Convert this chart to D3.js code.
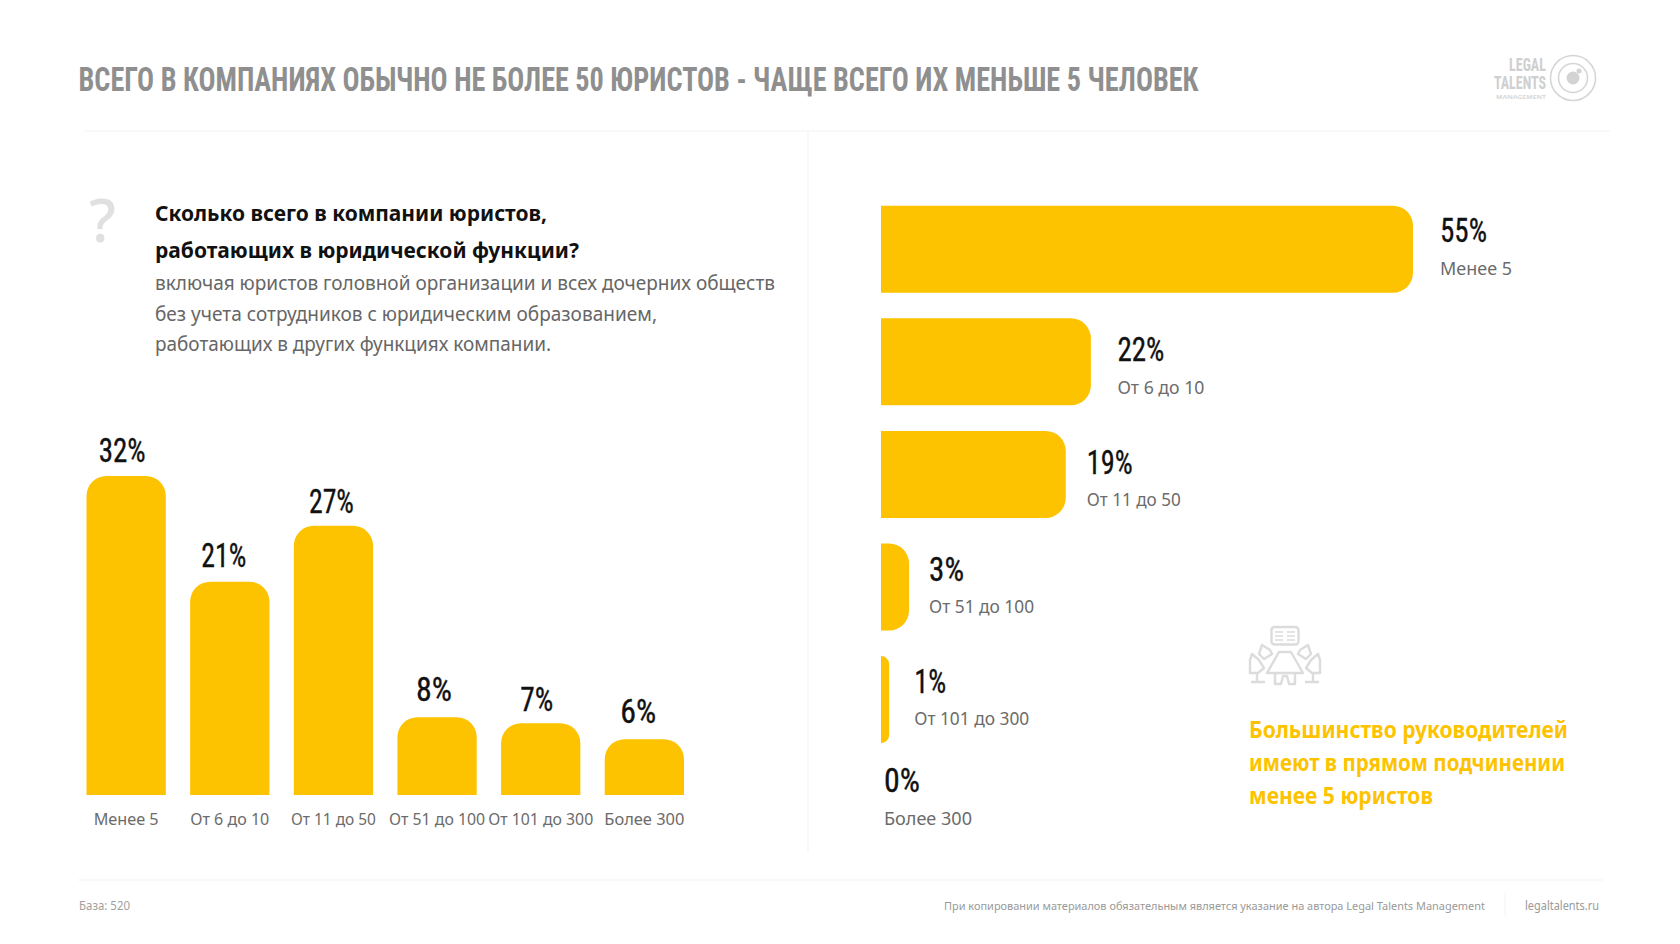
<!DOCTYPE html>
<html><head><meta charset="utf-8">
<script src="https://cdn.jsdelivr.net/npm/d3@7"></script>
<style>
html,body{margin:0;padding:0;background:#fff;overflow:hidden}
svg{display:block}
text{font-family:"Noto Sans",sans-serif}
.cond{font-family:"Liberation Sans Narrow","Roboto Condensed","DejaVu Sans Condensed",sans-serif}
.val{stroke:#111;stroke-width:.35}
</style></head><body>
<svg id="c" width="1680" height="944"></svg>
<script>
const leftCategories=["Менее 5","От 6 до 10","От 11 до 50","От 51 до 100","От 101 до 300","Более 300"];
const leftValues=[32,21.4,27,7.8,7.2,5.6];
const rightCategories=["Менее 5","От 6 до 10","От 11 до 50","От 51 до 100","От 101 до 300","Более 300"];
const rightValues=[55,21.7,19.1,2.9,0.85,0];
const titleText="ВСЕГО В КОМПАНИЯХ ОБЫЧНО НЕ БОЛЕЕ 50 ЮРИСТОВ - ЧАЩЕ ВСЕГО ИХ МЕНЬШЕ 5 ЧЕЛОВЕК";

const YEL="#fdc300",svg=d3.select("#c");
const pct=v=>Math.round(v)+"%";
function T(s,x,y,size,color,opt={}){
  const t=svg.append("text").attr("x",x).attr("y",y).attr("font-size",size).attr("fill",color).text(s);
  if(opt.bold)t.attr("font-weight",opt.bold===true?700:opt.bold);
  if(opt.cls)t.attr("class",opt.cls);
  if(opt.anchor)t.attr("text-anchor",opt.anchor);
  if(opt.w)t.attr("textLength",opt.w).attr("lengthAdjust","spacingAndGlyphs");
  return t;
}
function L(x1,y1,x2,y2,c="#f3f3f3"){svg.append("line").attr("x1",x1).attr("y1",y1).attr("x2",x2).attr("y2",y2).attr("stroke",c).attr("stroke-width",1);}

// frame
T(titleText,78.5,91,34,"#8f8f8f",{bold:true,cls:"cond",w:1120});
L(85,131,1610,131);L(808,131,808,853);L(78,880,1603,880);L(1505,893,1505,916);

// question block
T("?",89,242,60,"#e0e0e0",{bold:500});
T("Сколько всего в компании юристов,",155,221,22,"#111",{bold:true,w:392});
T("работающих в юридической функции?",155,258,22,"#111",{bold:true,w:424});
T("включая юристов головной организации и всех дочерних обществ",155,290,19,"#666",{w:620});
T("без учета сотрудников с юридическим образованием,",155,321,19,"#666",{w:502});
T("работающих в других функциях компании.",155,351,19,"#666",{w:396});

// left chart
const x=d3.scaleBand().domain(leftCategories).range([86.5,684]).paddingInner(0.235).paddingOuter(0);
const y=d3.scaleLinear().domain([0,32]).range([795,476]);
const topRound=(x0,y0,w,h,r)=>{const p=d3.path();p.moveTo(x0,y0+h);p.lineTo(x0,y0+r);p.arcTo(x0,y0,x0+r,y0,r);p.lineTo(x0+w-r,y0);p.arcTo(x0+w,y0,x0+w,y0+r,r);p.lineTo(x0+w,y0+h);p.closePath();return p.toString();};
svg.append("g").selectAll("path").data(leftValues).join("path").attr("fill",YEL)
  .attr("d",(v,i)=>topRound(x(leftCategories[i]),y(v),x.bandwidth(),y(0)-y(v),20));
const leftShift=[-4,-6,-2,-3,-4,-6],leftRise=[14,15,13,16,12,16];
svg.append("g").selectAll("text").data(leftValues).join("text").attr("class","cond val")
  .attr("x",(v,i)=>x(leftCategories[i])+x.bandwidth()/2+leftShift[i]).attr("y",(v,i)=>y(v)-leftRise[i])
  .attr("text-anchor","middle").attr("font-size",33).attr("fill","#111")
  .attr("textLength",(v,i)=>[47,45,45,36,33,36][i]).attr("lengthAdjust","spacingAndGlyphs").text(pct);
svg.append("g").selectAll("text").data(leftCategories).join("text")
  .attr("x",c=>x(c)+x.bandwidth()/2).attr("y",825)
  .attr("text-anchor","middle").attr("font-size",16).attr("fill","#6b6b6b")
  .attr("textLength",(c,i)=>[65,79,85,96,105,80][i]).attr("lengthAdjust","spacingAndGlyphs").text(c=>c);

// right chart
const bx=d3.scaleLinear().domain([0,55]).range([881,1413]);
const by=d3.scaleBand().domain(rightCategories).range([205.7,855.7]).paddingInner(0.227).paddingOuter(0);
const sideRound=(x0,y0,w,h)=>{const r=Math.min(w,20),p=d3.path();p.moveTo(x0,y0);p.lineTo(x0+w-r,y0);p.arcTo(x0+w,y0,x0+w,y0+r,r);p.lineTo(x0+w,y0+h-r);p.arcTo(x0+w,y0+h,x0+w-r,y0+h,r);p.lineTo(x0,y0+h);p.closePath();return p.toString();};
svg.append("g").selectAll("path").data(rightValues.filter(v=>v>0)).join("path").attr("fill",YEL)
  .attr("d",(v,i)=>sideRound(bx(0),by(rightCategories[i]),bx(v)-bx(0),by.bandwidth()));
const labelGap=[27,26.5,21,20,25,3];
const valueDrop=[36,43,43,38,37,23],catDrop=[69,76,75,70,69,56];
svg.append("g").selectAll("text").data(rightValues).join("text").attr("class","cond val")
  .attr("x",(v,i)=>bx(v)+labelGap[i]).attr("y",(v,i)=>by(rightCategories[i])+valueDrop[i])
  .attr("font-size",33).attr("fill","#111")
  .attr("textLength",(v,i)=>[47,47,46,35,32,36][i]).attr("lengthAdjust","spacingAndGlyphs").text(pct);
svg.append("g").selectAll("text").data(rightCategories).join("text")
  .attr("x",(c,i)=>bx(rightValues[i])+labelGap[i]).attr("y",(c,i)=>by(c)+catDrop[i])
  .attr("font-size",18).attr("fill","#6b6b6b")
  .attr("textLength",(c,i)=>[72,87,94,105,115,88][i]).attr("lengthAdjust","spacingAndGlyphs").text(c=>c);

// callout
T("Большинство руководителей",1249,738,23,YEL,{bold:true,w:319});
T("имеют в прямом подчинении",1249,771,23,YEL,{bold:true,w:316});
T("менее 5 юристов",1249,804,23,YEL,{bold:true,w:184});

// footer
T("База: 520",79,910,12,"#a0a0a0",{w:51});
T("При копировании материалов обязательным является указание на автора Legal Talents Management",944,910,11,"#9a9a9a",{w:541});
T("legaltalents.ru",1525,910,12,"#9a9a9a",{w:74});

// logo
T("LEGAL",1546,71,18,"#cfcfcf",{bold:true,cls:"cond",anchor:"end",w:37});
T("TALENTS",1546,89,18,"#cfcfcf",{bold:true,cls:"cond",anchor:"end",w:52});
T("MANAGEMENT",1546,99,6,"#d8d8d8",{bold:true,anchor:"end",w:50});
const lg=svg.append("g").attr("fill","none").attr("stroke","#d6d6d6").attr("stroke-width",1.6);
[22.5,14.5].forEach(r=>lg.append("circle").attr("cx",1573).attr("cy",78).attr("r",r));
svg.append("circle").attr("cx",1573).attr("cy",78).attr("r",6.5).attr("fill","#d3d3d3");
svg.append("circle").attr("cx",1579).attr("cy",71).attr("r",2.5).attr("fill","#d3d3d3");

// people-at-table icon
const ic=svg.append("g").attr("fill","none").attr("stroke","#dcdcdc").attr("stroke-width",2.4).attr("stroke-linejoin","round");
ic.append("rect").attr("x",1271.5).attr("y",627).attr("width",27).attr("height",17.5).attr("rx",3);
[632,636,640].forEach(v=>{ic.append("path").attr("d",`M1275 ${v}H1283M1287 ${v}H1295`).attr("stroke-width",1.6);});
ic.append("path").attr("d","M1279 652H1291L1303 673H1267Z");
ic.append("path").attr("d","M1275 673V684H1281L1283 676H1287L1289 684H1295V673");
ic.append("path").attr("d","M1262 645L1270 650L1272 654L1264 659L1259 654Z");
ic.append("path").attr("d","M1308 645L1300 650L1298 654L1306 659L1311 654Z");
ic.append("path").attr("d","M1252 654L1259 660L1264 668L1258 673H1250L1250 660Z");
ic.append("path").attr("d","M1318 654L1311 660L1306 668L1312 673H1320L1320 660Z");
ic.append("path").attr("d","M1257 673V682M1251 682H1265M1313 673V682M1305 682H1319");
</script>
</body></html>
